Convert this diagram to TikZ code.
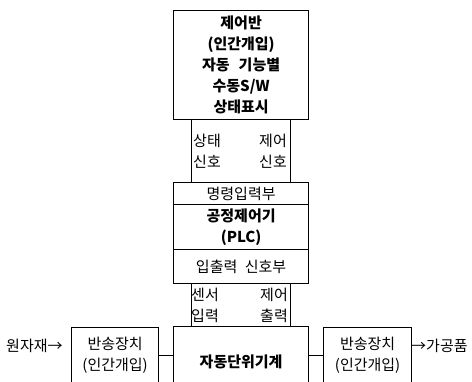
\documentclass[tikz,border=0pt]{standalone}
\usepackage{fontspec}
\setmainfont{Noto Sans CJK KR}
\tikzset{
  box/.style={draw, line width=1.2pt, anchor=north west, inner sep=0pt},
  txt/.style={font=\fontsize{15}{21}\selectfont, align=center, inner sep=0pt},
  btxt/.style={font=\fontsize{15}{21}\selectfont\bfseries, align=center, inner sep=0pt},
}
\begin{document}
\begin{tikzpicture}[x=1pt,y=-1pt]
  \useasboundingbox (0,0) rectangle (472,382);
  % control panel
  \node[box, btxt, minimum width=135pt, minimum height=109pt] (panel) at (173,10)
    {제어반\\(인간개입)\\자동\hspace{0.6em}기능별\\수동S/W\\상태표시};
  \node[box, minimum width=99pt, minimum height=63pt] (sigbox) at (191,119) {};
  \node[txt] (sigst) at (207,151.5) {상태\\신호};
  \node[txt] (sigct) at (273,151.5) {제어\\신호};
  % PLC
  \node[box, txt, minimum width=135pt, minimum height=22pt] (cmdin) at (173,182) {명령입력부};
  \node[box, btxt, minimum width=135pt, minimum height=45pt] (plc) at (173,204) {공정제어기\\(PLC)};
  \node[box, txt, minimum width=135pt, minimum height=34pt] (iosig) at (173,249) {입출력\hspace{0.5em}신호부};
  \node[box, minimum width=99pt, minimum height=43pt] (sensbox) at (191,283) {};
  \node[txt] (sensin) at (205,305) {센서\\입력};
  \node[txt] (sensout) at (274,305) {제어\\출력};
  % machine line
  \node[box, btxt, minimum width=135pt, minimum height=70pt] (unit) at (173,326) {자동단위기계};
  \node[box, txt, minimum width=87pt, minimum height=56pt] (convin) at (71,327) {반송장치\\(인간개입)};
  \node[box, txt, minimum width=88pt, minimum height=56pt] (convout) at (323,327) {반송장치\\(인간개입)};
  \draw[line width=1.2pt] (convin.east) -- (convin.east -| unit.west);
  \draw[line width=1.2pt] (unit.east |- convout.west) -- (convout.west);
  \node[txt, anchor=west] (raw) at (6,346) {원자재→};
  \node[txt, anchor=west] (prod) at (411,346) {→가공품};
\end{tikzpicture}
\end{document}
